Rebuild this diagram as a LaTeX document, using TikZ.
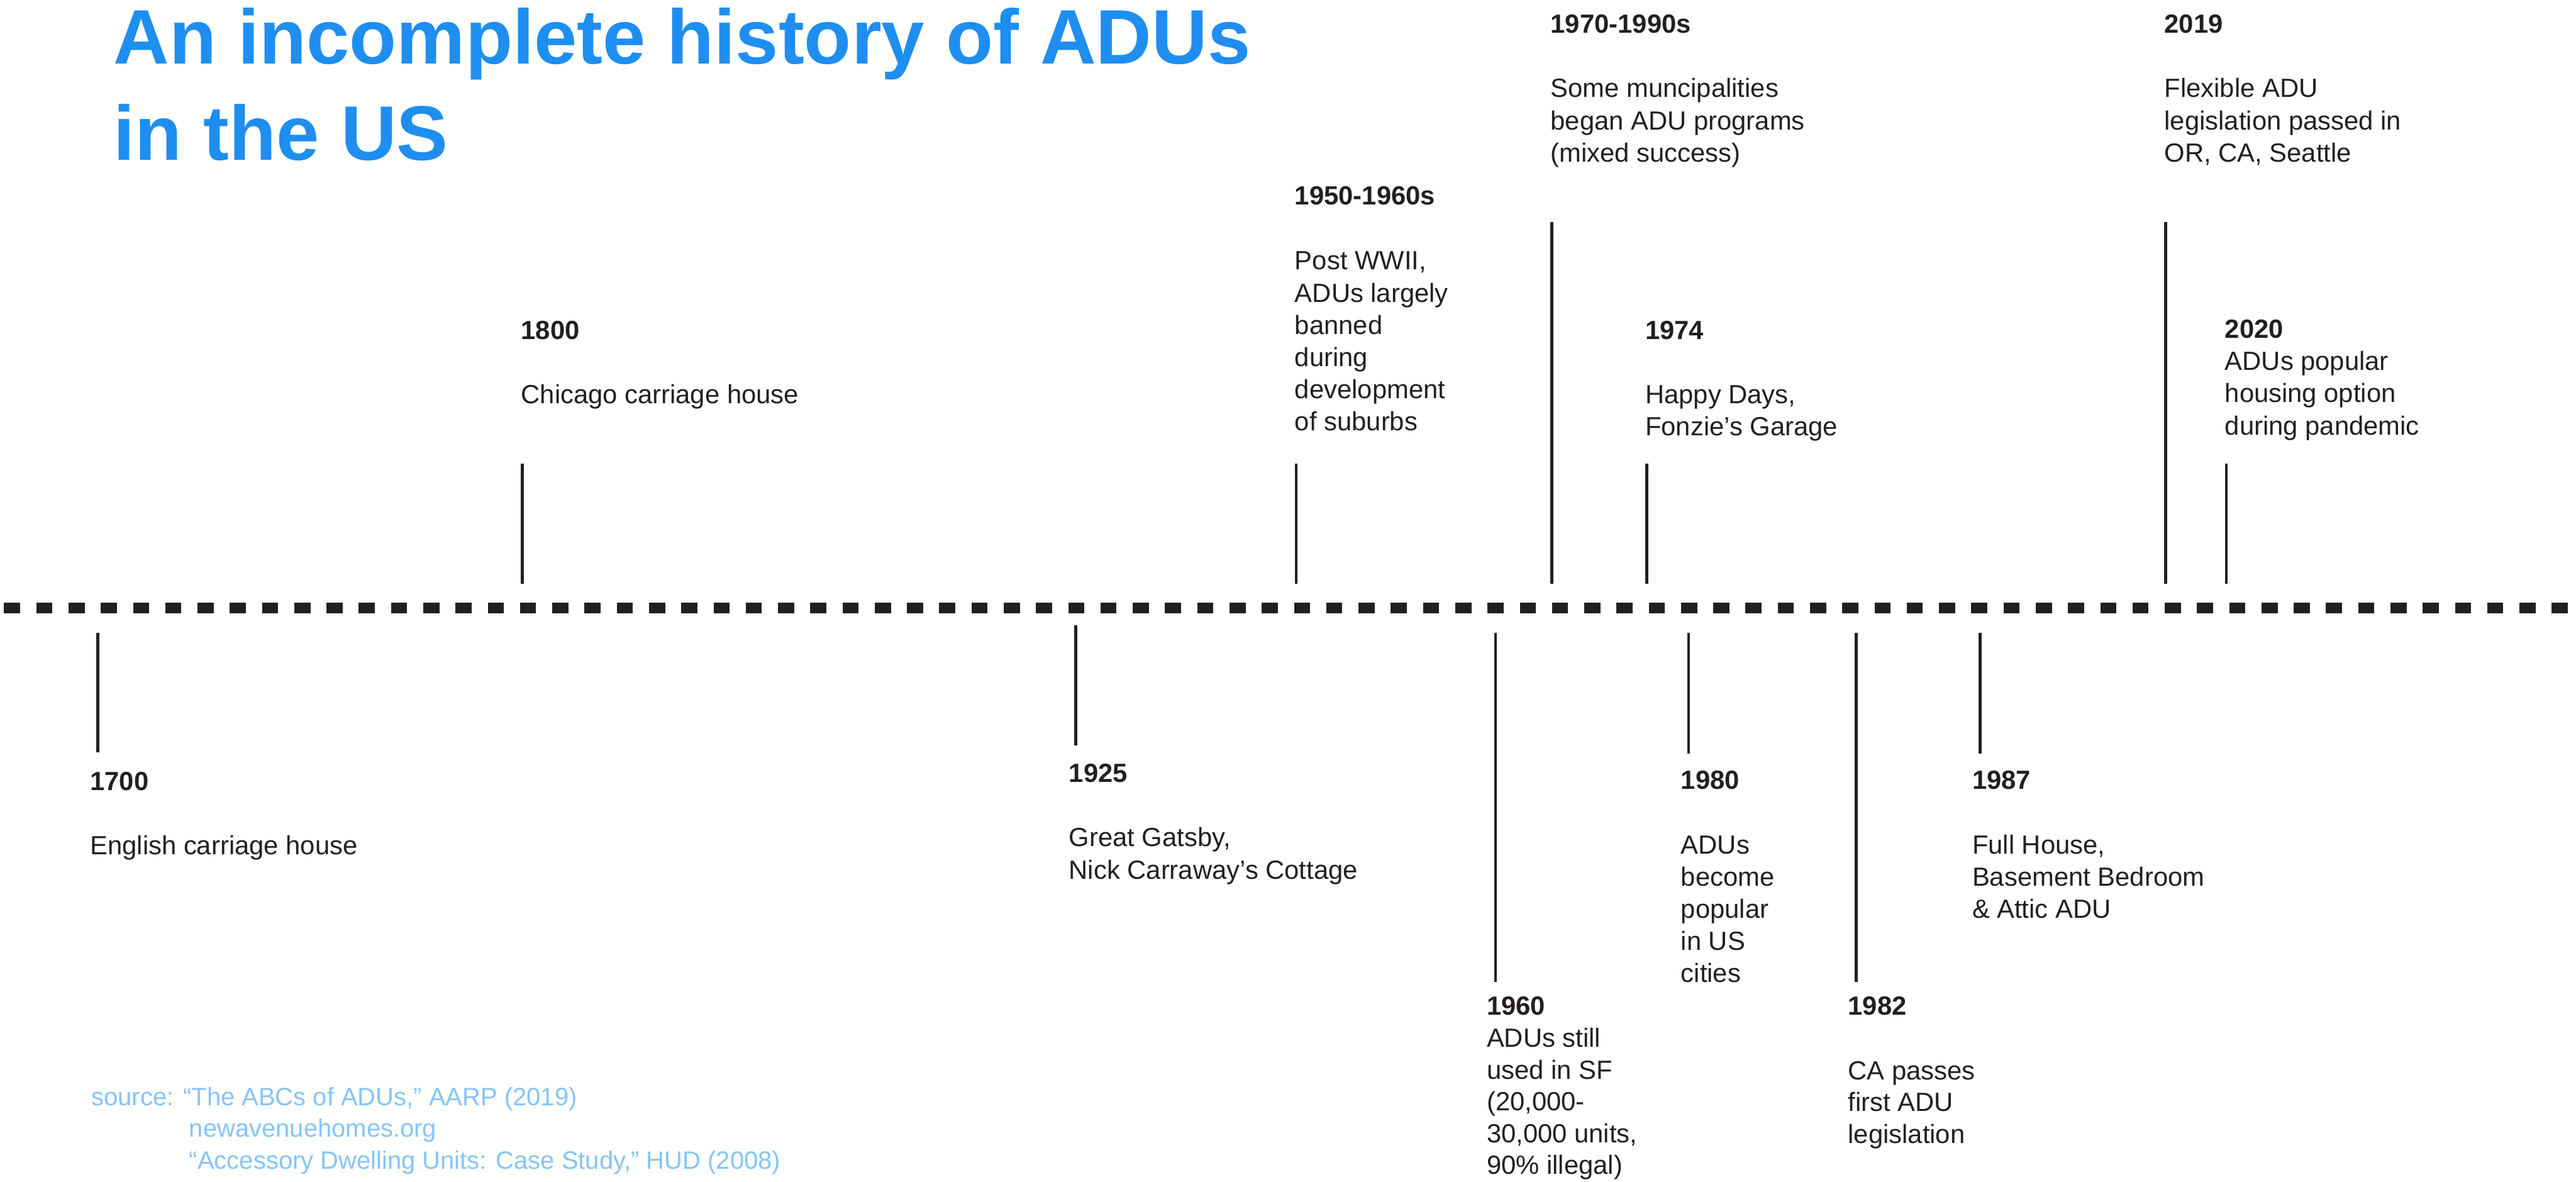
\documentclass[tikz,border=0pt]{standalone}
\usepackage{fontspec}
\setmainfont{Liberation Sans}
\definecolor{ttl}{HTML}{1E8EF0}
\definecolor{ink}{HTML}{231F20}
\definecolor{src}{HTML}{86C4F6}
\begin{document}
\begin{tikzpicture}[x=1pt,y=-1pt,
  yearlbl/.style={anchor=base west, inner sep=0pt, font=\fontsize{16}{19.6}\selectfont\bfseries, text=ink},
  desc/.style={anchor=north west, inner sep=0pt, align=left, yshift=13pt, font=\fontsize{16}{19.6}\selectfont, text=ink},
  desctight/.style={desc, font=\fontsize{16}{19.35}\selectfont},
  tickline/.style={draw=ink, line width=1.8pt},
  srclbl/.style={anchor=base west, inner sep=0pt, font=\fontsize{15.3}{19.4}\selectfont, text=src},
  titlelbl/.style={anchor=base west, inner sep=0pt, font=\fontsize{47}{58}\selectfont\bfseries, text=ttl}
  ]
\useasboundingbox (0,0) rectangle (1568,719);

% title
\node[titlelbl] (title1) at (69,39) {An incomplete history of ADUs};
\node[titlelbl] (title2) at (69,97.5) {in the US};

% timeline
\coordinate (tlA) at (0,370);
\coordinate (tlB) at (1568,370);
\draw[ink, line width=6.8pt, dash pattern=on 9.8pt off 9.83pt, dash phase=17.18pt] (tlA) -- (tlB);

% ---------- above the line ----------
% 1800
\coordinate (k1800a) at (318,282); \coordinate (k1800b) at (318,355.3);
\draw[tickline] (k1800a) -- (k1800b);
\node[yearlbl] (y1800) at (317,206.5) {1800};
\node[desc] (d1800) at (317,245.5) {\rule{0pt}{13pt}Chicago carriage house};

% 1950-1960s
\coordinate (k1950a) at (789,282); \coordinate (k1950b) at (789,355.3);
\draw[tickline] (k1950a) -- (k1950b);
\node[yearlbl] (y1950) at (788,124.6) {1950-1960s};
\node[desc] (d1950) at (788,164) {\rule{0pt}{13pt}Post WWII,\\ADUs largely\\banned\\during\\development\\of suburbs};

% 1970-1990s
\coordinate (k1970a) at (944.7,135); \coordinate (k1970b) at (944.7,355.3);
\draw[tickline] (k1970a) -- (k1970b);
\node[yearlbl] (y1970) at (943.7,20) {1970-1990s};
\node[desc] (d1970) at (943.7,59.1) {\rule{0pt}{13pt}Some muncipalities\\began ADU programs\\(mixed success)};

% 1974
\coordinate (k1974a) at (1002.3,282); \coordinate (k1974b) at (1002.3,355.3);
\draw[tickline] (k1974a) -- (k1974b);
\node[yearlbl] (y1974) at (1001.3,206.4) {1974};
\node[desc] (d1974) at (1001.3,245.4) {\rule{0pt}{13pt}Happy Days,\\Fonzie’s Garage};

% 2019
\coordinate (k2019a) at (1318.3,135); \coordinate (k2019b) at (1318.3,355.3);
\draw[tickline] (k2019a) -- (k2019b);
\node[yearlbl] (y2019) at (1317.3,20) {2019};
\node[desc] (d2019) at (1317.3,59.1) {\rule{0pt}{13pt}Flexible ADU\\legislation passed in\\OR, CA, Seattle};

% 2020
\coordinate (k2020a) at (1355.1,282); \coordinate (k2020b) at (1355.1,355.3);
\draw[tickline] (k2020a) -- (k2020b);
\node[yearlbl] (y2020) at (1354.1,205.6) {2020};
\node[desc] (d2020) at (1354.1,225.2) {\rule{0pt}{13pt}ADUs popular\\housing option\\during pandemic};

% ---------- below the line ----------
% 1700
\coordinate (k1700a) at (59.6,385); \coordinate (k1700b) at (59.6,458);
\draw[tickline] (k1700a) -- (k1700b);
\node[yearlbl] (y1700) at (54.7,481) {1700};
\node[desc] (d1700) at (54.7,520) {\rule{0pt}{13pt}English carriage house};

% 1925
\coordinate (k1925a) at (654.8,380.5); \coordinate (k1925b) at (654.8,453.6);
\draw[tickline] (k1925a) -- (k1925b);
\node[yearlbl] (y1925) at (650.5,476) {1925};
\node[desc] (d1925) at (650.5,515) {\rule{0pt}{13pt}Great Gatsby,\\Nick Carraway’s Cottage};

% 1960
\coordinate (k1960a) at (910.3,385); \coordinate (k1960b) at (910.3,597.6);
\draw[tickline] (k1960a) -- (k1960b);
\node[yearlbl] (y1960) at (904.8,617.5) {1960};
\node[desctight] (d1960) at (904.8,637) {\rule{0pt}{13pt}ADUs still\\used in SF\\(20,000-\\30,000 units,\\90\% illegal)};

% 1980
\coordinate (k1980a) at (1027.8,385); \coordinate (k1980b) at (1027.8,458.5);
\draw[tickline] (k1980a) -- (k1980b);
\node[yearlbl] (y1980) at (1023,480.3) {1980};
\node[desc] (d1980) at (1023,519.3) {\rule{0pt}{13pt}ADUs\\become\\popular\\in US\\cities};

% 1982
\coordinate (k1982a) at (1129.8,385); \coordinate (k1982b) at (1129.8,597.6);
\draw[tickline] (k1982a) -- (k1982b);
\node[yearlbl] (y1982) at (1124.7,617.5) {1982};
\node[desctight] (d1982) at (1124.7,656.8) {\rule{0pt}{13pt}CA passes\\first ADU\\legislation};

% 1987
\coordinate (k1987a) at (1205.4,385); \coordinate (k1987b) at (1205.4,458.5);
\draw[tickline] (k1987a) -- (k1987b);
\node[yearlbl] (y1987) at (1200.3,480.3) {1987};
\node[desc] (d1987) at (1200.3,519.3) {\rule{0pt}{13pt}Full House,\\Basement Bedroom\\\& Attic ADU};

% sources
\node[srclbl] (src1) at (55.5,672.7) {source: “The ABCs of ADUs,” AARP (2019)};
\node[srclbl] (src2) at (115,692) {newavenuehomes.org};
\node[srclbl] (src3) at (115,711.5) {“Accessory Dwelling Units: Case Study,” HUD (2008)};
\end{tikzpicture}
\end{document}
